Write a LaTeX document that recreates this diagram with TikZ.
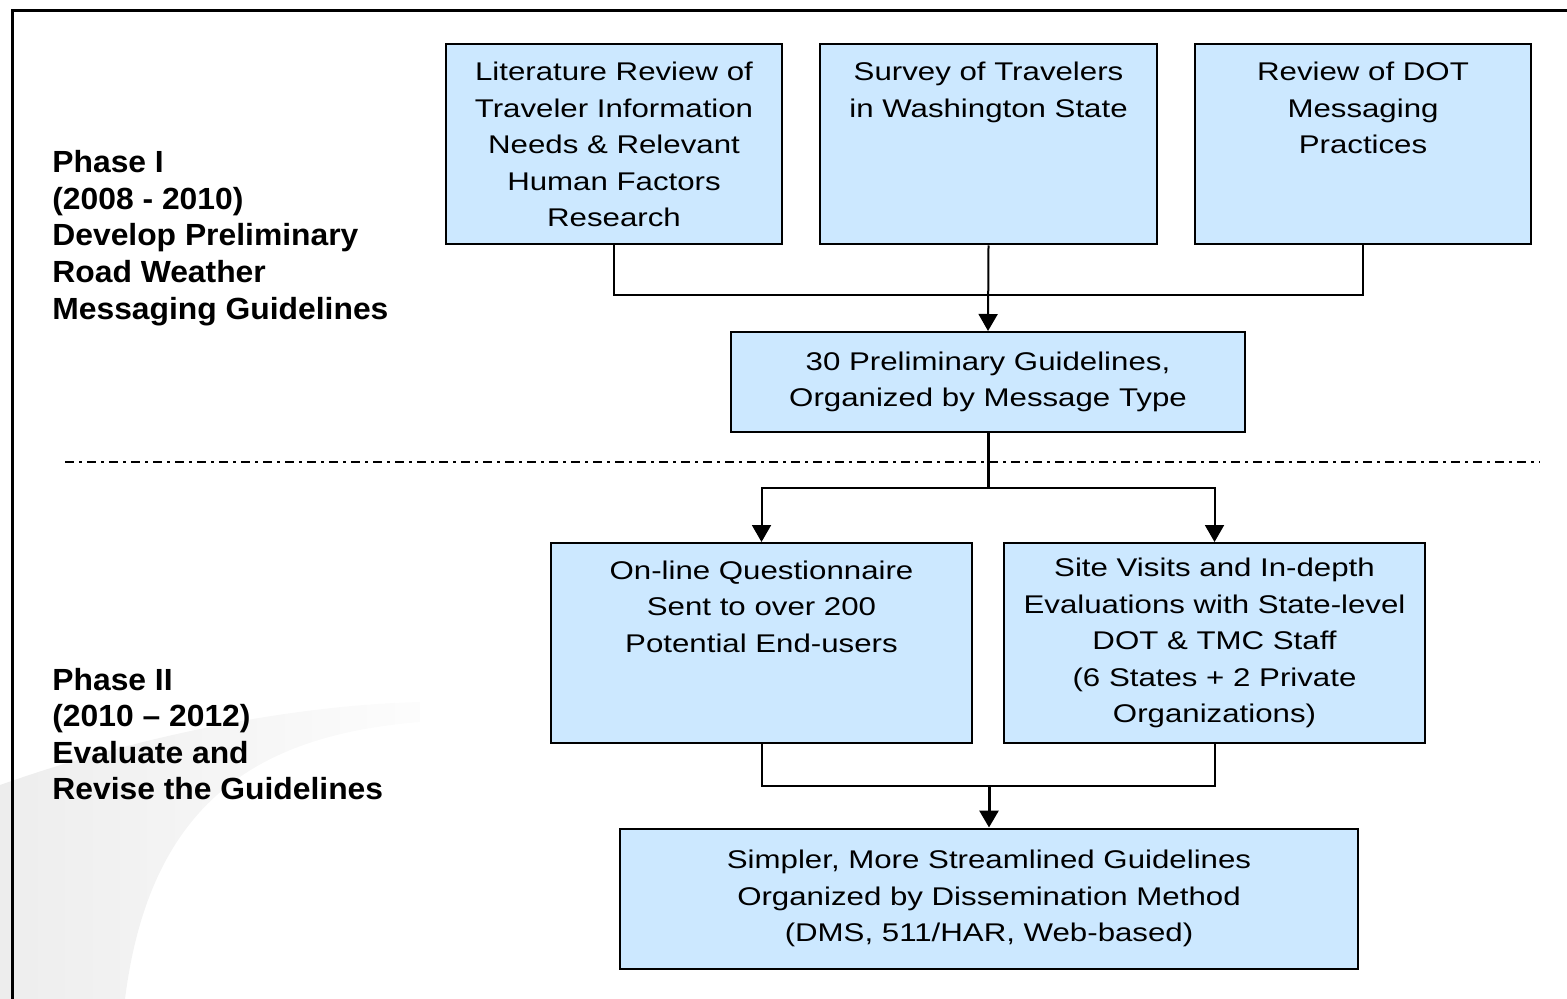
\documentclass[tikz,border=0pt]{standalone}
\usepackage{fontspec}
\setmainfont{Liberation Sans}
\newfontfamily\boxfont[FakeStretch=1.22,Ligatures=TeX]{Liberation Sans}
\newfontfamily\phasefont[FakeStretch=1.04,Ligatures=TeX]{Liberation Sans}
\usetikzlibrary{arrows.meta}
\definecolor{boxblue}{RGB}{204,232,255}

\begin{document}
\begin{tikzpicture}[x=0.5pt, y=-0.5pt,
	block/.style = {draw, fill=boxblue, line width=1pt, align=center, inner sep=0pt, font=\boxfont\fontsize{12.8}{18.3}\selectfont},
	phase/.style = {anchor=west, align=left, inner sep=0pt, font=\phasefont\bfseries\fontsize{15.3}{18.3}\selectfont},
	link/.style = {line width=1pt},
	arr/.style = {line width=1pt, -{Triangle[length=8.5pt,width=9.5pt]}},]
		
		\useasboundingbox (0,0) rectangle (1567,999);
		
		% background swoosh
		\shade[left color=black!7, right color=black!1] (0,785) .. controls (150,732) and (300,705) .. (420,702) -- (420,722) .. controls (260,735) and (150,800) .. (125,999) -- (0,999) -- cycle;
		\draw[line width=1.5pt] (12,999) -- (12,11) -- (1567,11);
		
		\node[phase] (phase1) at (52,238) {Phase I\\(2008 - 2010)\\Develop Preliminary\\Road Weather\\Messaging Guidelines};
		\node[phase] (phase2) at (52,734) {Phase II\\(2010 -- 2012)\\Evaluate and\\Revise the Guidelines};
		
		\node[block, minimum width=168pt, minimum height=100pt] (lit) at (614,144.5) {Literature Review of\\Traveler Information\\Needs \& Relevant\\Human Factors\\Research};
		\node[block, minimum width=168.5pt, minimum height=100pt] (survey) at (988.5,144.5) {Survey of Travelers\\in Washington State\\~\\~\\~};
		\node[block, minimum width=168pt, minimum height=100pt] (dot) at (1363,144.5) {Review of DOT\\Messaging\\Practices\\~\\~};
		\node[block, minimum width=257pt, minimum height=50pt] (prelim) at (988,382) {30 Preliminary Guidelines,\\Organized by Message Type};
		\node[block, minimum width=210.5pt, minimum height=100pt] (online) at (761.5,643) {On-line Questionnaire\\Sent to over 200\\Potential End-users\\~\\~};
		\node[block, minimum width=210.5pt, minimum height=100pt] (site) at (1214.5,643) {Site Visits and In-depth\\Evaluations with State-level\\DOT \& TMC Staff\\(6 States + 2 Private\\Organizations)};
		\node[block, minimum width=369pt, minimum height=70pt] (simpler) at (989,898.5) {Simpler, More Streamlined Guidelines\\Organized by Dissemination Method\\(DMS, 511/HAR, Web-based)};
		
		% phase divider
		\draw[line width=1.2pt, dash pattern=on 4.5pt off 2.5pt on 1.5pt off 2.5pt] (65,462) -- (1540,462);
		
		\draw[link] (lit.south) -- ++(0,50) -| (dot.south);
		\draw[arr] (survey.south) -- (prelim.north);
		\draw[line width=1.5pt] (prelim.south) -- ++(0,55) coordinate (split);
		\draw[arr] (split) -| (online.north);
		\draw[arr] (split) -| (site.north);
		\draw[link] (online.south) -- ++(0,42) coordinate (join) -| (site.south);
		\draw[arr, line width=1.5pt] (simpler.north |- join) -- (simpler.north);
		
	\end{tikzpicture}
\end{document}
